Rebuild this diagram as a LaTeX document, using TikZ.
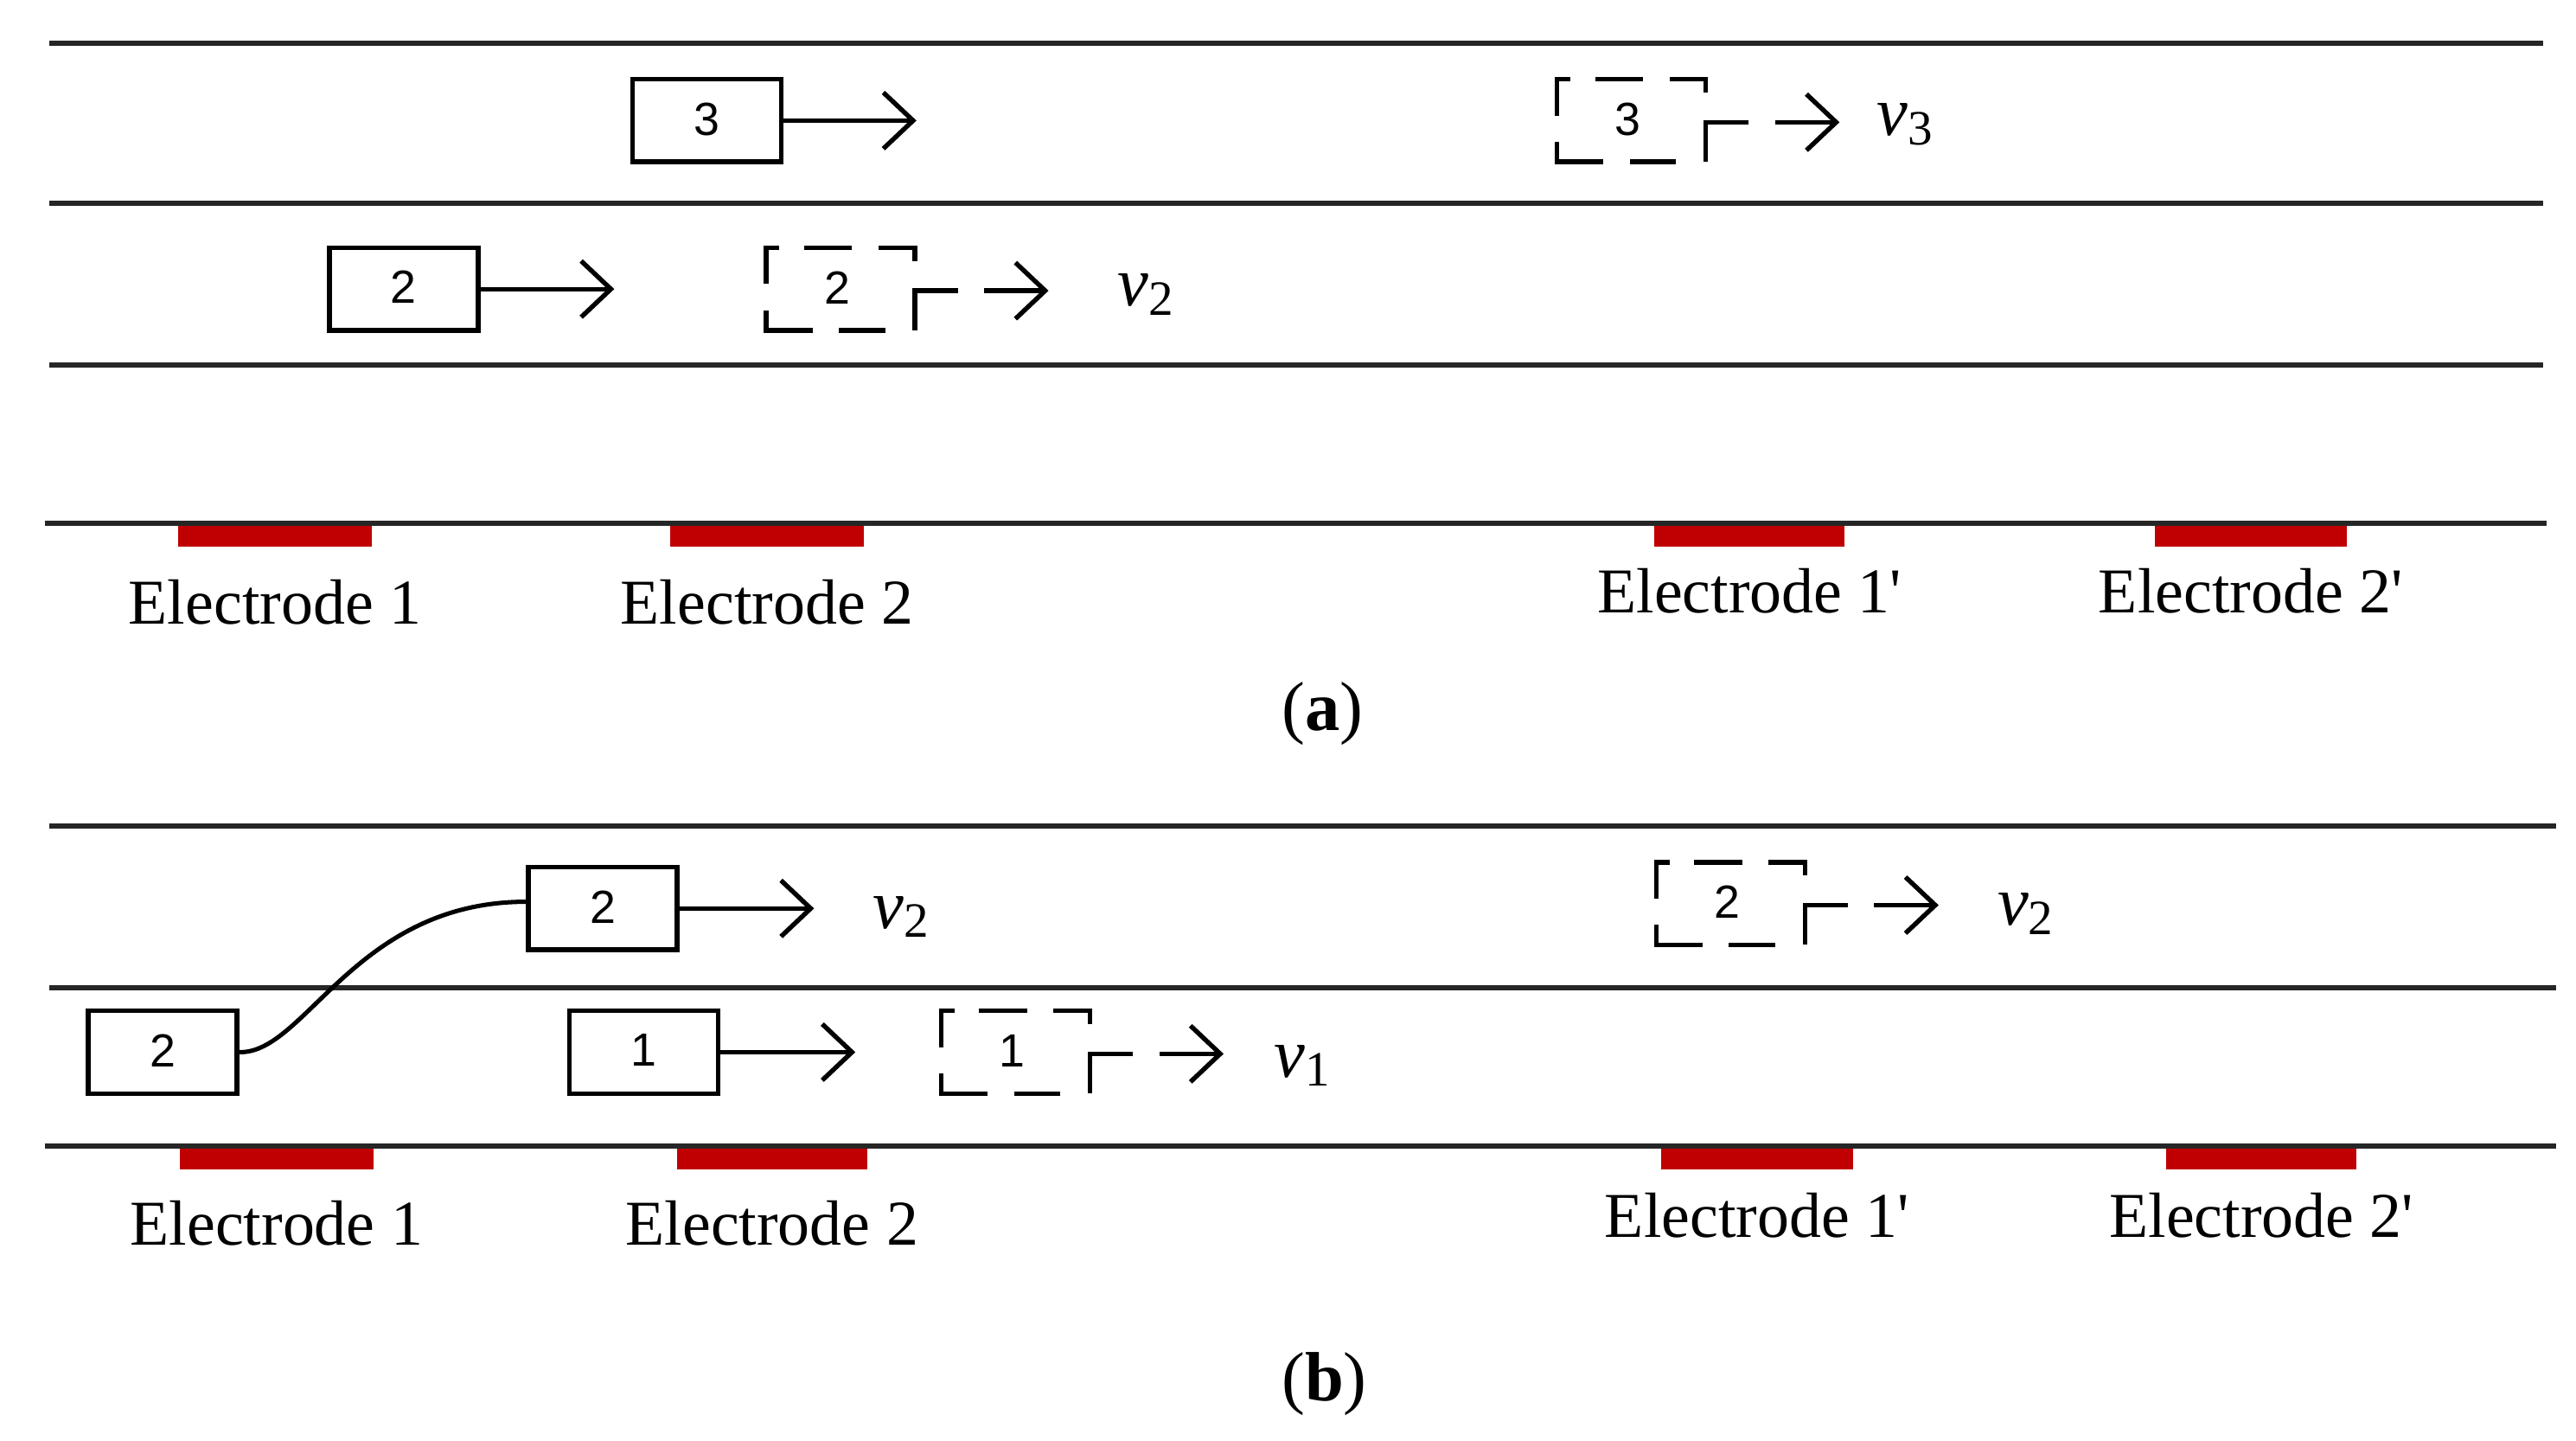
\documentclass[tikz,border=0pt]{standalone}
\usepackage{fontspec}
\setmainfont{Liberation Serif}
\newfontfamily\digitfont{Liberation Sans}
\usetikzlibrary{arrows.meta}
\definecolor{elred}{RGB}{192,0,0}
\newcommand\dashcar[4]{%
  \begin{scope}[shift={(#1,#2)}]
    \draw[dseg] (0,22) -- (0,0) -- (8,0);
    \draw[dseg] (23,0) -- (52,0);
    \draw[dseg] (68,0) -- (90,0) -- (90,8);
    \draw[dseg] (0,38) -- (0,50) -- (28,50);
    \draw[dseg] (44,50) -- (72,50);
    \draw[dseg] (116,26) -- (90,26) -- (90,50);
    \node[digit] (#3) at (43,24) {#4};
    \coordinate (#3s) at (132,26);
    \coordinate (#3t) at (171,26);
  \end{scope}
  \draw[arr] (#3s) -- (#3t);
}
\newcommand\vlab[1]{{\fontsize{12}{14}\selectfont\itshape v}\raisebox{-1.6pt}{\fontsize{8.5}{10}\selectfont #1}}
\begin{document}
\begin{tikzpicture}[x=0.01cm,y=-0.01cm,
  lane/.style={line width=0.9pt,black!85},
  carbox/.style={draw,line width=0.8pt,minimum width=0.9cm,minimum height=0.5cm,inner sep=0pt,
    font=\digitfont\fontsize{8}{9}\selectfont},
  digit/.style={inner sep=0pt,font=\digitfont\fontsize{8}{9}\selectfont},
  dseg/.style={line width=0.8pt},
  arr/.style={line width=0.8pt,-{Straight Barb[length=0.18cm,width=0.34cm]}},
  curve/.style={line width=0.75pt},
  elabel/.style={anchor=base,inner sep=0pt,font=\fontsize{11}{13}\selectfont},
  vl/.style={anchor=base west,inner sep=0pt},
  plabel/.style={inner sep=0pt,font=\fontsize{12}{14}\selectfont}]
\useasboundingbox (0,0) rectangle (1560,872);

% ---------- panel (a) ----------
\fill[elred] (108,317) rectangle (225,331);
\fill[elred] (406,317) rectangle (523,331);
\fill[elred] (1002,317) rectangle (1117,331);
\fill[elred] (1305,317) rectangle (1421,331);
\draw[lane] (30,26) -- (1540,26);
\draw[lane] (30,123) -- (1540,123);
\draw[lane] (30,221) -- (1540,221);
\draw[lane] (27,317) -- (1542,317);

\node[elabel] (ea1) at (166.5,378) {Electrode 1};
\node[elabel] (ea2) at (464.5,378) {Electrode 2};
\node[elabel] (ea1p) at (1059.5,371) {Electrode 1\textquotesingle};
\node[elabel] (ea2p) at (1363,371) {Electrode 2\textquotesingle};
\node[plabel] (pa) at (801,432) {(\textbf{a})};

\node[carbox] (a3) at (428,73) {\raisebox{0.6pt}{3}};
\coordinate (a3t) at (555,73);
\draw[arr] (a3.east) -- (a3t);
\dashcar{943}{48}{da3}{3}
\node[vl] (va3) at (1136,82) {\vlab{3}};

\node[carbox] (a2) at (244.5,175) {\raisebox{0.6pt}{2}};
\coordinate (a2t) at (372,175);
\draw[arr] (a2.east) -- (a2t);
\dashcar{464}{150}{da2}{2}
\node[vl] (va2) at (676,185) {\vlab{2}};

% ---------- panel (b) ----------
\fill[elred] (109,694) rectangle (226,708);
\fill[elred] (410,694) rectangle (525,708);
\fill[elred] (1006,694) rectangle (1122,708);
\fill[elred] (1312,694) rectangle (1427,708);
\draw[lane] (30,500) -- (1548,500);
\draw[lane] (30,598) -- (1548,598);
\draw[lane] (27,694) -- (1548,694);

\node[elabel] (eb1) at (167.5,754) {Electrode 1};
\node[elabel] (eb2) at (467.5,754) {Electrode 2};
\node[elabel] (eb1p) at (1064,749) {Electrode 1\textquotesingle};
\node[elabel] (eb2p) at (1369.5,749) {Electrode 2\textquotesingle};
\node[plabel] (pb) at (802,838) {(\textbf{b})};

\node[carbox] (bu2) at (365,550) {\raisebox{0.6pt}{2}};
\coordinate (bu2t) at (493,550);
\draw[arr] (bu2.east) -- (bu2t);
\node[vl] (vbu2) at (528,562) {\vlab{2}};

\dashcar{1003}{522}{db2}{2}
\node[vl] (vb2) at (1209,560) {\vlab{2}};

\node[carbox] (bl2) at (98.5,637) {\raisebox{0.6pt}{2}};
\draw[curve] (bl2.east) .. controls (185,638) and (215,546) .. (bu2.175);

\node[carbox] (b1) at (390,637) {\raisebox{0.6pt}{1}};
\coordinate (b1t) at (518,637);
\draw[arr] (b1.east) -- (b1t);
\dashcar{570}{612}{db1}{1}
\node[vl] (vb1) at (771,652) {\vlab{1}};
\end{tikzpicture}
\end{document}
